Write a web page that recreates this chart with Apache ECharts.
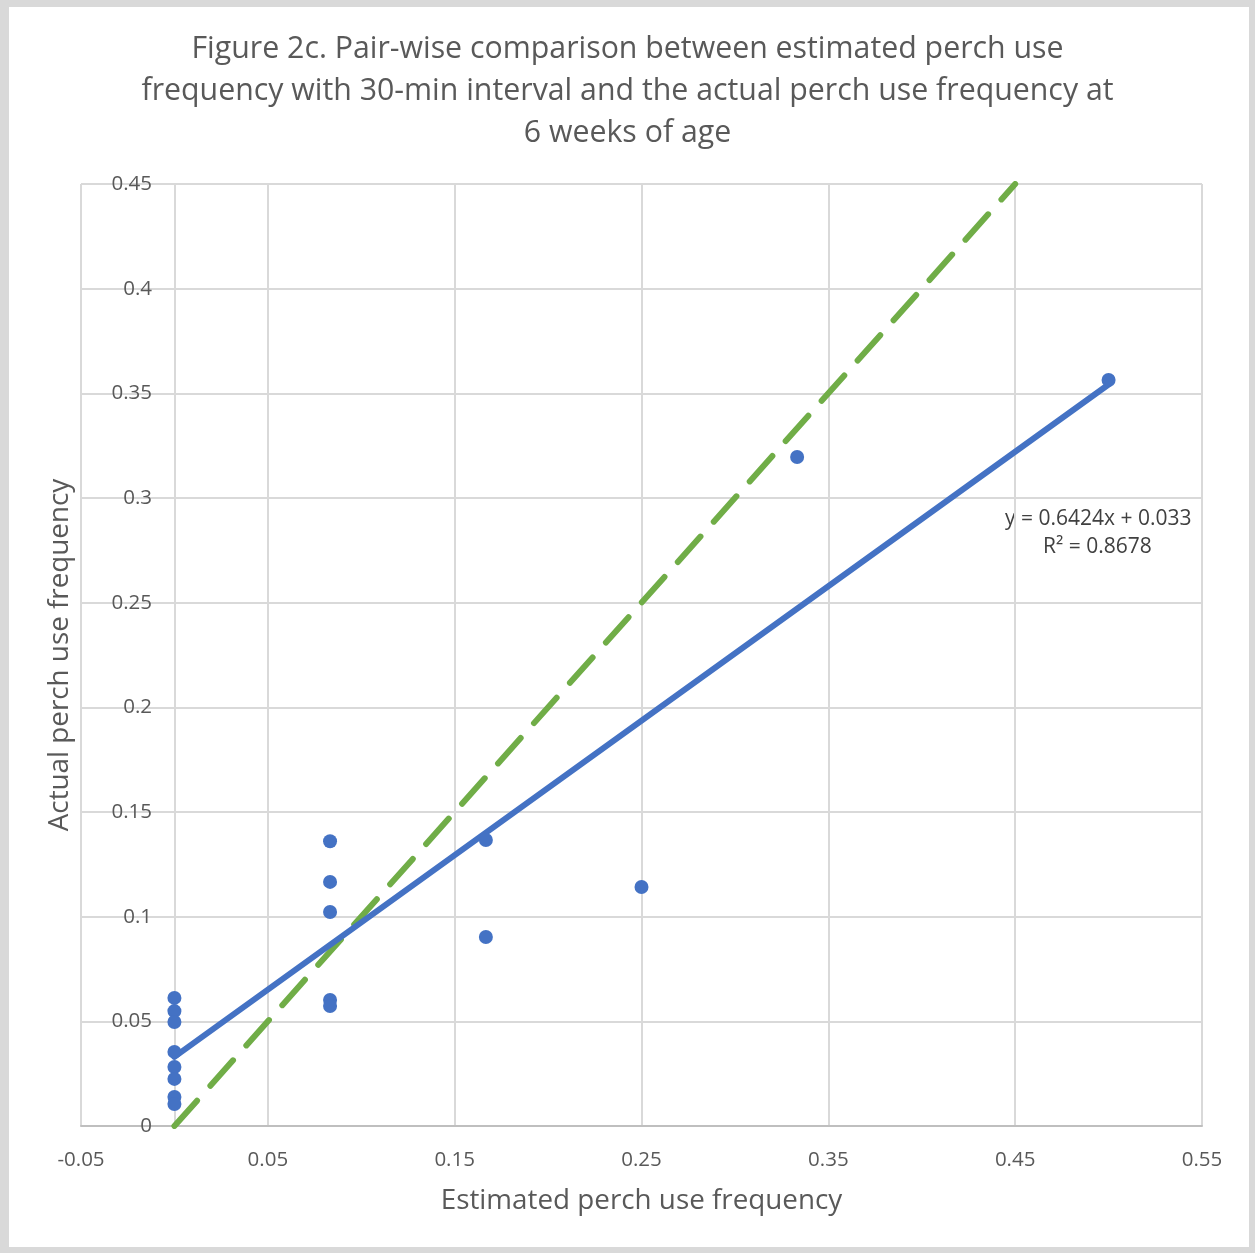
<!DOCTYPE html>
<html>
<head>
<meta charset="utf-8">
<script src="https://cdn.jsdelivr.net/npm/echarts@6/dist/echarts.min.js"></script>
<style>
  html, body { margin: 0; padding: 0; background: #ffffff; }
  #frame { width: 1255px; height: 1253px; box-sizing: border-box; border-style: solid; border-color: #d9d9d9; border-width: 7px 6px 6px 9px; background: #fff; position: relative; }
  #chart { position: absolute; left: -9px; top: -7px; width: 1255px; height: 1253px; }
</style>
</head>
<body>
<div id="frame"><div id="chart"></div></div>
<script>
// Estimated (30-min interval) vs actual perch use frequency, 6 weeks of age
const estimated = [0, 0, 0, 0, 0, 0, 0, 0,
                   0.0833, 0.0833, 0.0833, 0.0833, 0.0833,
                   0.1667, 0.1667, 0.25, 0.3333, 0.5];
const actual = [0.0612, 0.0549, 0.0497, 0.0354, 0.0282, 0.0225, 0.0139, 0.0105,
                0.1360, 0.1166, 0.1022, 0.0602, 0.0573,
                0.1366, 0.0903, 0.1142, 0.3196, 0.3564];

// Linear trend reported on the chart
const trendSlope = 0.6424;
const trendIntercept = 0.033;
const trendR2 = 0.8678;
const trendRange = [0, 0.5];

// 1:1 reference line
const identityRange = [0, 0.45];

const xTicks = [-0.05, 0.05, 0.15, 0.25, 0.35, 0.45, 0.55];
const yTicks = [0, 0.05, 0.1, 0.15, 0.2, 0.25, 0.3, 0.35, 0.4, 0.45];

const FONT = "'Open Sans', 'Noto Sans', sans-serif";
const TEXT = '#595959';

const points = estimated.map((x, i) => [x, actual[i]]);
const trendLine = trendRange.map(x => [x, trendSlope * x + trendIntercept]);
const identityLine = identityRange.map(x => [x, x]);

const chart = echarts.init(document.getElementById('chart'), null, { renderer: 'canvas' });
chart.setOption({
  animation: false,
  backgroundColor: 'transparent',
  textStyle: { fontFamily: FONT },
  title: {
    text: 'Figure 2c. Pair-wise comparison between estimated perch use\nfrequency with 30-min interval and the actual perch use frequency at\n6 weeks of age',
    left: 'center',
    top: 23,
    textStyle: { fontFamily: FONT, fontSize: 30.3, fontWeight: 'normal', color: TEXT, lineHeight: 42, align: 'center' }
  },
  grid: { left: 81, right: 53, top: 184, bottom: 127, containLabel: false, outerBoundsMode: 'none' },
  xAxis: {
    type: 'value',
    min: xTicks[0],
    max: xTicks[xTicks.length - 1],
    interval: 0.1,
    name: 'Estimated perch use frequency',
    nameLocation: 'middle',
    nameGap: 61,
    nameTextStyle: { fontFamily: FONT, fontSize: 27.8, color: TEXT },
    axisLine: { show: true, onZero: true, lineStyle: { color: '#bfbfbf', width: 2 } },
    axisTick: { show: false },
    axisLabel: { fontFamily: FONT, fontSize: 20.5, color: TEXT, margin: 24 },
    splitLine: { show: true, lineStyle: { color: '#d9d9d9', width: 2 } }
  },
  yAxis: {
    type: 'value',
    min: yTicks[0],
    max: yTicks[yTicks.length - 1],
    interval: 0.05,
    name: 'Actual perch use frequency',
    nameLocation: 'middle',
    nameGap: 7,
    nameTextStyle: { fontFamily: FONT, fontSize: 27.8, color: TEXT },
    axisLine: { show: true, onZero: true, lineStyle: { color: '#d9d9d9', width: 2 } },
    axisTick: { show: false },
    // labels sit beside the axis line at x = 0
    axisLabel: { fontFamily: FONT, fontSize: 20.5, color: TEXT, margin: -71 },
    splitLine: { show: true, lineStyle: { color: '#d9d9d9', width: 2 } }
  },
  series: [
    {
      name: 'Identity',
      type: 'line',
      data: identityLine,
      symbol: 'none',
      lineStyle: { color: '#70ad47', width: 6, type: [34, 20], cap: 'round' },
      z: 2
    },
    {
      name: 'Trend',
      type: 'line',
      data: trendLine,
      symbol: 'none',
      lineStyle: { color: '#4472c4', width: 6, cap: 'round' },
      z: 3
    },
    {
      name: 'Observed',
      type: 'scatter',
      data: points,
      symbol: 'circle',
      symbolSize: 14,
      itemStyle: { color: '#4472c4', opacity: 1 },
      z: 4
    }
  ],
  graphic: [
    {
      type: 'text',
      left: 1005,
      top: 509,
      style: { text: 'y = ' + trendSlope + 'x + ' + trendIntercept, font: '21px ' + FONT, fill: '#404040' }
    },
    {
      type: 'text',
      left: 1043,
      top: 537,
      style: { text: 'R² = ' + trendR2, font: '21px ' + FONT, fill: '#404040' }
    }
  ]
});
</script>
</body>
</html>
